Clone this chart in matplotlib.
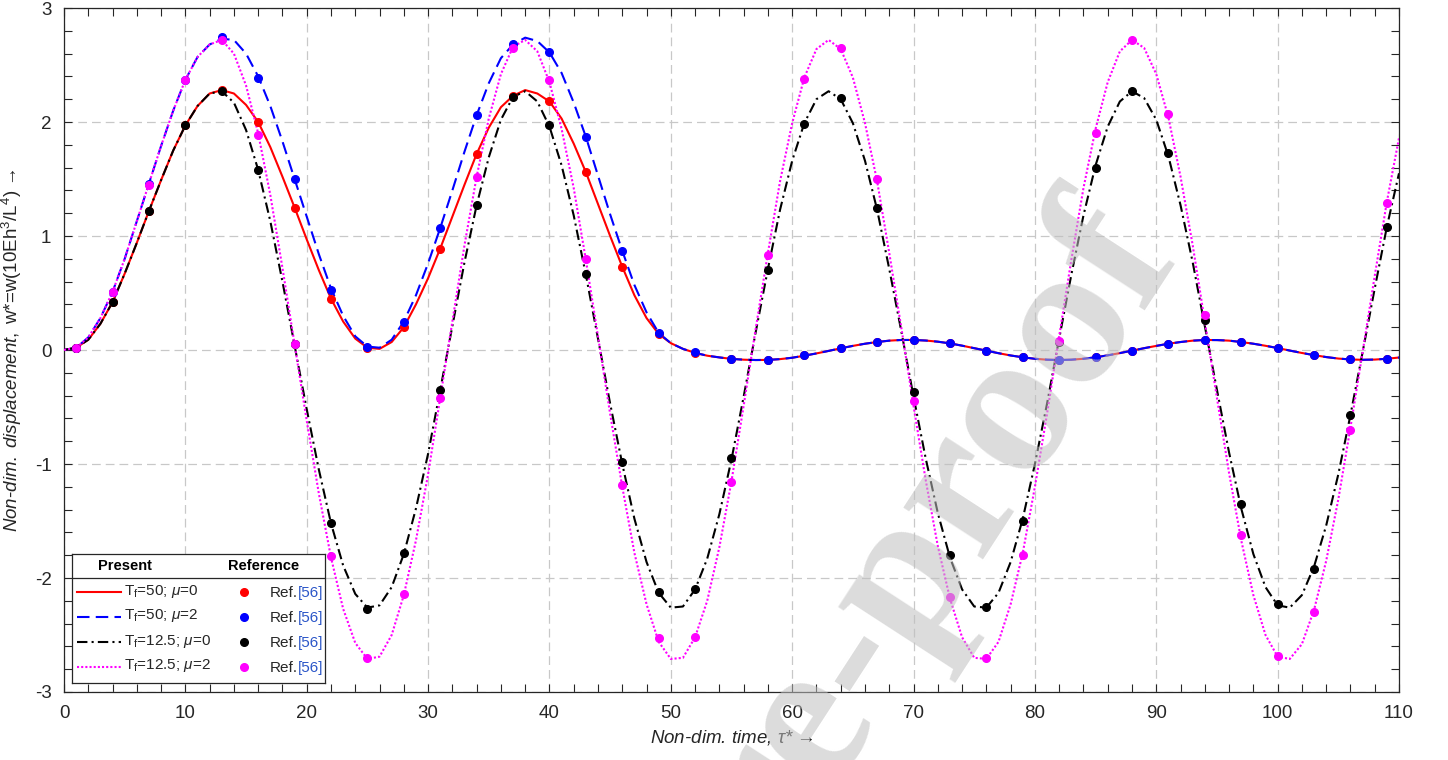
import matplotlib.pyplot as plt
import numpy as np

plt.rcParams["font.family"] = ["Liberation Sans", "DejaVu Sans"]
plt.rcParams["mathtext.fontset"] = "custom"
plt.rcParams["mathtext.rm"] = "Liberation Sans"
plt.rcParams["mathtext.it"] = "Liberation Sans:italic"
plt.rcParams["axes.unicode_minus"] = False

tau = np.arange(0, 111)

w_tf50_mu0 = [
    0, 0.02, 0.09, 0.23, 0.42, 0.67, 0.94, 1.22, 1.49, 1.75,
    1.97, 2.14, 2.25, 2.28, 2.25, 2.15, 2.0, 1.78, 1.52, 1.25,
    0.97, 0.7, 0.45, 0.25, 0.1, 0.02, 0.01, 0.07, 0.2, 0.4,
    0.63, 0.89, 1.17, 1.45, 1.72, 1.95, 2.13, 2.23, 2.28, 2.25,
    2.18, 2.03, 1.81, 1.56, 1.28, 1.0, 0.73, 0.48, 0.28, 0.14,
    0.06, 0.01, -0.025, -0.05, -0.065, -0.078, -0.085, -0.088, -0.087, -0.08,
    -0.068, -0.05, -0.03, -0.008, 0.015, 0.036, 0.055, 0.07, 0.082, 0.088,
    0.088, 0.083, 0.073, 0.058, 0.038, 0.016, -0.006, -0.028, -0.048, -0.064,
    -0.077, -0.085, -0.088, -0.085, -0.077, -0.064, -0.047, -0.027, -0.006, 0.016,
    0.036, 0.055, 0.07, 0.082, 0.088, 0.087, 0.082, 0.07, 0.055, 0.037,
    0.017, -0.005, -0.026, -0.045, -0.062, -0.075, -0.083, -0.086, -0.084, -0.077,
    -0.066,
]

w_tf50_mu2 = [
    0, 0.02, 0.11, 0.28, 0.51, 0.8, 1.13, 1.46, 1.79, 2.1,
    2.37, 2.57, 2.68, 2.73, 2.72, 2.6, 2.4, 2.14, 1.83, 1.5,
    1.17, 0.84, 0.54, 0.3, 0.12, 0.03, 0.02, 0.09, 0.25, 0.48,
    0.76, 1.07, 1.4, 1.74, 2.06, 2.34, 2.56, 2.68, 2.74, 2.71,
    2.61, 2.43, 2.17, 1.87, 1.53, 1.19, 0.87, 0.57, 0.33, 0.15,
    0.06, 0.01, -0.025, -0.05, -0.065, -0.078, -0.085, -0.088, -0.087, -0.08,
    -0.068, -0.05, -0.03, -0.008, 0.015, 0.036, 0.055, 0.07, 0.082, 0.088,
    0.088, 0.083, 0.073, 0.058, 0.038, 0.016, -0.006, -0.028, -0.048, -0.064,
    -0.077, -0.085, -0.088, -0.085, -0.077, -0.064, -0.047, -0.027, -0.006, 0.016,
    0.036, 0.055, 0.07, 0.082, 0.088, 0.087, 0.082, 0.07, 0.055, 0.037,
    0.017, -0.005, -0.026, -0.045, -0.062, -0.075, -0.083, -0.086, -0.084, -0.077,
    -0.066,
]

w_tf12_mu0 = [
    0, 0.02, 0.09, 0.23, 0.42, 0.67, 0.94, 1.22, 1.49, 1.75,
    1.97, 2.14, 2.25, 2.27, 2.17, 1.93, 1.58, 1.13, 0.60, 0.04,
    -0.52, -1.05, -1.52, -1.89, -2.14, -2.26, -2.24, -2.08, -1.79, -1.39,
    -0.91, -0.35, 0.21, 0.77, 1.27, 1.69, 2.02, 2.22, 2.27, 2.18,
    1.96, 1.62, 1.18, 0.66, 0.10, -0.47, -1.00, -1.48, -1.86, -2.13,
    -2.26, -2.25, -2.10, -1.83, -1.44, -0.96, -0.41, 0.16, 0.71, 1.23,
    1.66, 1.99, 2.20, 2.27, 2.20, 1.99, 1.66, 1.23, 0.71, 0.16,
    -0.41, -0.95, -1.43, -1.82, -2.10, -2.25, -2.26, -2.13, -1.86, -1.48,
    -1.00, -0.47, 0.10, 0.66, 1.18, 1.62, 1.96, 2.18, 2.27, 2.21,
    2.02, 1.70, 1.27, 0.77, 0.21, -0.35, -0.90, -1.39, -1.79, -2.08,
    -2.24, -2.26, -2.15, -1.90, -1.54, -1.09, -0.57, -0.02, 0.54, 1.08,
    1.55,
]

w_tf12_mu2 = [
    0, 0.02, 0.11, 0.28, 0.51, 0.8, 1.13, 1.46, 1.79, 2.1,
    2.37, 2.57, 2.68, 2.72, 2.60, 2.32, 1.90, 1.36, 0.72, 0.05,
    -0.62, -1.26, -1.82, -2.27, -2.57, -2.71, -2.69, -2.50, -2.15, -1.67,
    -1.09, -0.42, 0.25, 0.92, 1.52, 2.03, 2.42, 2.66, 2.72, 2.62,
    2.35, 1.94, 1.42, 0.79, 0.12, -0.56, -1.20, -1.78, -2.23, -2.56,
    -2.71, -2.70, -2.52, -2.20, -1.73, -1.15, -0.49, 0.19, 0.85, 1.48,
    1.99, 2.39, 2.64, 2.72, 2.64, 2.39, 1.99, 1.48, 0.85, 0.19,
    -0.49, -1.14, -1.72, -2.18, -2.52, -2.70, -2.71, -2.56, -2.23, -1.78,
    -1.20, -0.56, 0.12, 0.79, 1.42, 1.94, 2.35, 2.62, 2.72, 2.65,
    2.42, 2.04, 1.52, 0.92, 0.25, -0.42, -1.08, -1.67, -2.15, -2.50,
    -2.69, -2.71, -2.58, -2.28, -1.85, -1.31, -0.68, -0.02, 0.65, 1.30,
    1.86,
]

# Ref.[56] points, every 3 units from tau*=1
tau_ref = np.arange(1, 110, 3)

ref_tf50_mu0 = [
    0.02, 0.42, 1.22, 1.97, 2.28, 2.0, 1.25, 0.45, 0.02, 0.2,
    0.89, 1.72, 2.23, 2.18, 1.56, 0.73, 0.14, -0.03, -0.075, -0.085,
    -0.045, 0.015, 0.07, 0.085, 0.058, -0.006, -0.064, -0.088, -0.064, -0.008,
    0.055, 0.088, 0.07, 0.02, -0.044, -0.08, -0.076,
]
ref_tf50_mu2 = [
    0.02, 0.51, 1.46, 2.37, 2.75, 2.39, 1.5, 0.53, 0.03, 0.25,
    1.07, 2.06, 2.68, 2.61, 1.87, 0.87, 0.15, -0.02, -0.075, -0.085,
    -0.045, 0.015, 0.07, 0.088, 0.06, -0.006, -0.064, -0.088, -0.064, -0.008,
    0.055, 0.088, 0.07, 0.02, -0.044, -0.08, -0.076,
]
ref_tf12_mu0 = [
    0.02, 0.42, 1.22, 1.97, 2.27, 1.58, 0.05, -1.52, -2.27, -1.78,
    -0.35, 1.27, 2.22, 1.97, 0.67, -0.98, -2.12, -2.1, -0.95, 0.7,
    1.98, 2.21, 1.25, -0.37, -1.8, -2.25, -1.5, 0.07, 1.6, 2.27,
    1.73, 0.26, -1.35, -2.23, -1.92, -0.57, 1.08,
]
ref_tf12_mu2 = [
    0.02, 0.51, 1.45, 2.37, 2.72, 1.89, 0.05, -1.81, -2.7, -2.14,
    -0.42, 1.52, 2.65, 2.37, 0.8, -1.18, -2.53, -2.52, -1.16, 0.83,
    2.38, 2.65, 1.5, -0.45, -2.17, -2.7, -1.8, 0.08, 1.9, 2.72,
    2.07, 0.31, -1.62, -2.68, -2.3, -0.7, 1.29,
]

labels = [r"T$_\mathrm{f}$=50; $\mu$=0", r"T$_\mathrm{f}$=50; $\mu$=2",
          r"T$_\mathrm{f}$=12.5; $\mu$=0", r"T$_\mathrm{f}$=12.5; $\mu$=2"]
colors = ["#ff0000", "#0000ff", "#000000", "#ff00ff"]
styles = ["-", (0, (6, 3)), (0, (5, 2, 1, 2)), (0, (1, 1))]
curves = [w_tf50_mu0, w_tf50_mu2, w_tf12_mu0, w_tf12_mu2]
refs = [ref_tf50_mu0, ref_tf50_mu2, ref_tf12_mu0, ref_tf12_mu2]

W, H = 1448, 760
fig = plt.figure(figsize=(W / 100, H / 100), dpi=100)
ax = fig.add_axes([64 / W, (H - 692) / H, (1399 - 64) / W, (692 - 8) / H])

for y, c, ls in zip(curves, colors, styles):
    ax.plot(tau, y, color=c, linestyle=ls, linewidth=1.5, zorder=3)
for y, c in zip(refs, colors):
    ax.plot(tau_ref, y, "o", color=c, markersize=5.5, linestyle="none", zorder=4)

ax.set_xlim(0, 110)
ax.set_ylim(-3, 3)
ax.set_xticks(np.arange(0, 111, 10))
ax.set_yticks(np.arange(-3, 4, 1))
ax.set_xticks(np.arange(0, 111, 2), minor=True)
ax.set_yticks(np.arange(-3, 3.01, 0.2), minor=True)
ax.tick_params(which="both", direction="in", top=True, right=True, length=6,
               width=0.8, color="#262626", labelsize=13.5, labelcolor="#262626")
ax.tick_params(which="major", pad=9)
ax.grid(True, which="major", color="#c8c8c8", linestyle=(0, (7, 4)), linewidth=0.9)
ax.set_axisbelow(True)
for s in ax.spines.values():
    s.set_color("#262626")
    s.set_linewidth(0.9)

ax.set_xlabel(r"Non-dim. time, $\tau$* →", fontsize=13.5, style="italic",
              color="#262626", labelpad=5)
ax.set_ylabel(r"$\mathit{Non}$-$\mathit{dim.}$ $\mathit{displacement,}$ w*=w(10Eh$^{3}$/L$^{4}$) →",
              fontsize=13.5, color="#262626", labelpad=8)

# legend panel (pixel-unit axes)
lg = fig.add_axes([72 / W, (H - 683) / H, (325 - 72) / W, (683 - 554) / H])
lg.set_xlim(0, 253)
lg.set_ylim(129, 0)
lg.set_xticks([])
lg.set_yticks([])
for s in lg.spines.values():
    s.set_color("#262626")
    s.set_linewidth(0.9)
lg.axhline(24, color="#262626", linewidth=0.9)
lg.text(53, 12, "Present", fontsize=10.5, fontweight="bold", ha="center", va="center")
lg.text(192, 12, "Reference", fontsize=10.5, fontweight="bold", ha="center", va="center")
for i, (lab, c, ls) in enumerate(zip(labels, colors, styles)):
    yy = 38 + i * 25
    lg.plot([5, 49], [yy, yy], color=c, linestyle=ls, linewidth=1.5)
    lg.text(52, yy - 1, lab, fontsize=11, va="center", ha="left", color="#262626")
    lg.plot([172], [yy], "o", color=c, markersize=5.5)
    t1 = lg.text(198, yy + 1, "Ref.", fontsize=11, va="center", ha="left", color="#262626")
    lg.annotate("[56]", xycoords=t1, xy=(1, 0.5), va="center", ha="left",
                fontsize=11, color="#2b56c8")

# watermark
fig.text(1180 / W, (H - 256) / H, "Journal Pre-proof", fontsize=150, fontweight="bold",
         family=["Liberation Serif", "DejaVu Serif"], color="#bfbfbf", alpha=0.55,
         rotation=57, rotation_mode="anchor", ha="right", va="baseline", zorder=10)

fig.savefig("out.png", dpi=100)
